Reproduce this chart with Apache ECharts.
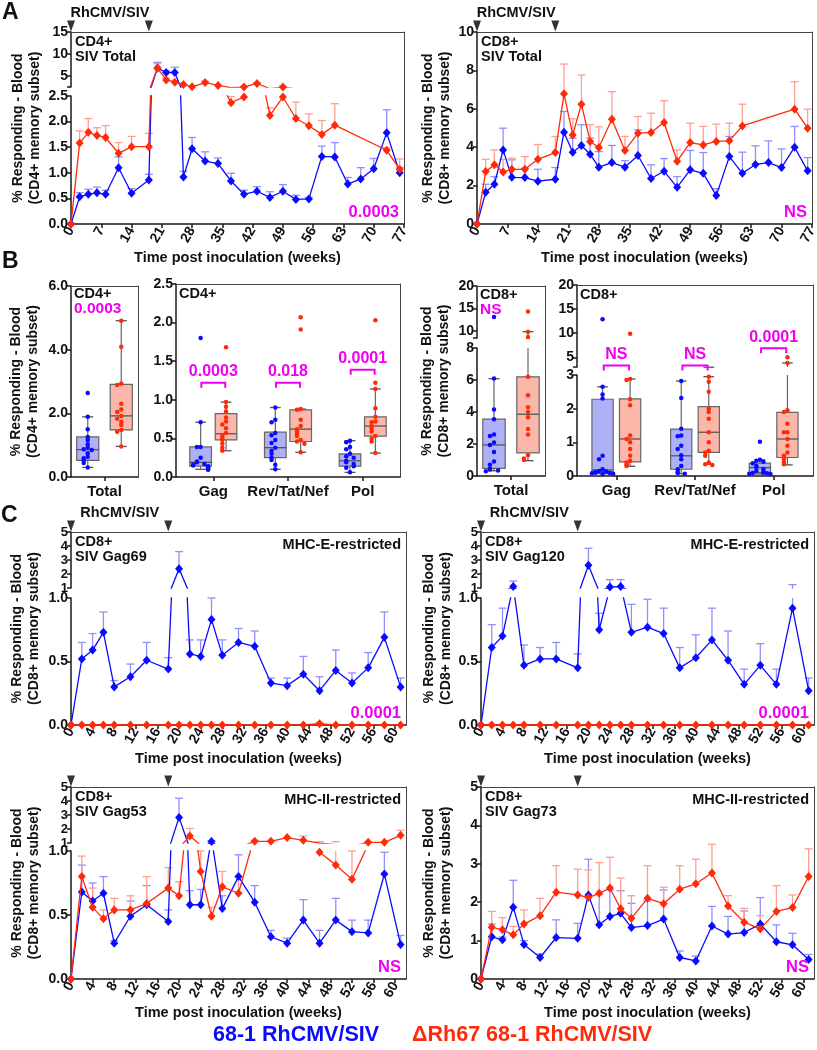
<!DOCTYPE html>
<html><head><meta charset="utf-8">
<script src="https://cdn.jsdelivr.net/npm/echarts@6/dist/echarts.min.js"></script>
<style>html,body{margin:0;padding:0;background:#fff}#c{width:817px;height:1050px}</style>
</head><body><div id="c"></div>
<script>
// ================= DATA =================
const LEG_BLUE = '68-1 RhCMV/SIV';
const LEG_RED = '\u0394Rh67 68-1 RhCMV/SIV';
const arrowWeeks = [0, 18];

// ---- Panel A (weeks) ----
const xTicksA = [0,7,14,21,28,35,42,49,56,63,70,77];
const weeksA_blue = [0,2,4,6,8,11,14,18,20,22,24,26,28,31,34,37,40,43,46,49,52,55,58,61,64,67,70,73,76];
const weeksA_red  = [0,2,4,6,8,11,14,18,20,22,24,26,28,31,34,37,40,43,46,49,52,55,58,61,73,76];
const cd4_blue_mean  = [0,0.53,0.58,0.61,0.58,1.10,0.60,0.86,6.8,5.8,5.8,0.92,1.47,1.23,1.18,0.84,0.58,0.64,0.52,0.64,0.48,0.49,1.32,1.31,0.78,0.88,1.08,1.78,1.0];
const cd4_blue_upper = [0,0.61,0.68,0.72,0.66,1.31,0.69,0.97,8.1,6.2,7.0,1.03,1.69,1.41,1.29,0.99,0.66,0.73,0.63,0.77,0.56,0.52,1.52,1.59,0.91,1.10,1.28,2.23,1.10];
const cd4_red_mean   = [0,1.58,1.79,1.73,1.69,1.38,1.51,1.51,6.8,4.1,3.6,3.05,2.55,3.5,2.85,2.37,2.48,3.3,2.12,2.48,2.06,1.92,1.75,1.93,1.44,1.07];
const cd4_red_upper  = [0,1.82,2.06,1.88,1.92,1.59,1.71,1.77,7.8,4.5,3.9,3.3,2.7,3.8,3.0,2.49,2.66,3.5,2.27,2.7,2.38,2.15,2.02,2.35,1.49,1.27];
const cd8_blue_mean  = [0,1.65,2.07,3.86,2.43,2.42,2.23,2.33,4.78,3.74,4.09,3.63,2.96,3.2,2.96,3.57,2.37,2.75,1.91,2.82,2.64,1.48,3.51,2.64,3.1,3.2,2.94,4.0,2.77];
const cd8_blue_upper = [0,2.07,2.47,4.99,3.34,2.9,2.85,2.94,5.86,4.47,5.17,4.47,3.77,4.09,3.3,4.9,3.08,3.41,2.47,3.83,3.72,1.84,4.56,3.74,4.07,4.33,3.91,5.08,3.46];
const cd8_red_mean   = [0,2.73,3.08,2.71,2.85,2.85,3.37,3.72,6.78,4.64,6.24,4.30,3.98,5.46,3.83,4.73,4.77,5.29,3.27,4.24,4.12,4.30,4.33,5.11,5.98,4.99];
const cd8_red_upper  = [0,3.37,3.86,3.37,3.43,3.51,4.14,4.56,8.33,5.48,7.76,5.17,5.06,6.89,4.56,5.6,5.77,6.42,3.86,5.25,5.08,5.2,5.25,6.24,7.41,5.98];

// ---- Panel B (box plots) ----
const catsTotal = ['Total'];
const catsAg = ['Gag', 'Rev/Tat/Nef', 'Pol'];
// stats: [min, Q1, median, Q3, max]
const cd4Tot_blue_dots = [2.64,1.89,1.5,1.26,1.16,1.03,0.93,0.87,0.85,0.75,0.64,0.59,0.52,0.44,0.30];
const cd4Tot_blue_box  = [0.30,0.52,0.86,1.26,1.89];
const cd4Tot_red_dots  = [4.91,4.09,2.94,2.89,2.3,2.12,2.04,1.92,1.83,1.73,1.63,1.48,1.42,0.96];
const cd4Tot_red_box   = [0.96,1.48,1.92,2.91,4.91];
const cd4Gag_blue_dots = [1.80,0.71,0.39,0.39,0.25,0.20,0.19,0.17,0.16,0.15,0.14,0.125,0.12,0.10,0.095];
const cd4Gag_blue_box  = [0.10,0.14,0.19,0.39,0.71];
const cd4Gag_red_dots  = [1.68,0.97,0.91,0.85,0.77,0.72,0.68,0.63,0.57,0.53,0.50,0.48,0.43,0.38,0.34];
const cd4Gag_red_box   = [0.34,0.48,0.56,0.82,0.97];
const cd4Rev_blue_dots = [0.90,0.74,0.71,0.57,0.54,0.48,0.44,0.38,0.34,0.30,0.25,0.22,0.16,0.10];
const cd4Rev_blue_box  = [0.10,0.25,0.38,0.58,0.90];
const cd4Rev_red_dots  = [2.07,1.91,0.88,0.87,0.74,0.66,0.62,0.59,0.56,0.53,0.48,0.46,0.43,0.32];
const cd4Rev_red_box   = [0.32,0.46,0.62,0.87,0.88];
const cd4Pol_blue_dots = [0.47,0.45,0.39,0.36,0.30,0.27,0.25,0.21,0.19,0.17,0.14,0.12,0.06];
const cd4Pol_blue_box  = [0.06,0.14,0.21,0.30,0.47];
const cd4Pol_red_dots  = [2.03,1.22,1.14,0.89,0.78,0.72,0.71,0.66,0.63,0.59,0.53,0.50,0.46,0.31];
const cd4Pol_red_box   = [0.31,0.53,0.66,0.78,1.14];
const cd8Tot_blue_dots = [13.1,6.1,4.15,3.55,2.6,2.5,2.1,1.94,1.5,0.9,0.7,0.45,0.4,0.35,0.3];
const cd8Tot_blue_box  = [0.33,0.48,1.94,3.55,6.08];
const cd8Tot_red_dots  = [14.3,9.8,8.6,6.2,5.05,4.3,4.0,3.67,2.94,2.6,1.3,1.1,1.0];
const cd8Tot_red_box   = [0.96,1.44,3.86,6.2,9.8];
const cd8Gag_blue_dots = [12.9,2.65,2.42,2.3,0.6,0.5,0.2,0.15,0.13,0.12,0.1,0.09,0.08,0.07,0.06];
const cd8Gag_blue_box  = [0.07,0.13,0.18,2.28,2.65];
const cd8Gag_red_dots  = [9.9,2.88,2.85,2.28,2.1,1.2,1.1,1.0,0.8,0.6,0.45,0.4,0.35,0.3];
const cd8Gag_red_box   = [0.29,0.42,1.10,2.29,2.88];
const cd8Rev_blue_dots = [2.82,2.32,1.4,1.2,1.18,0.9,0.8,0.62,0.5,0.3,0.2,0.12,0.09,0.07];
const cd8Rev_blue_box  = [0.07,0.20,0.60,1.39,2.82];
const cd8Rev_red_dots  = [2.95,2.8,2.5,2.0,1.9,1.7,1.3,1.0,0.75,0.7,0.6,0.4,0.35,0.33];
const cd8Rev_red_box   = [0.35,0.70,1.30,2.06,2.95];
const cd8Pol_blue_dots = [1.02,0.48,0.45,0.42,0.38,0.3,0.25,0.2,0.15,0.12,0.1,0.09,0.08,0.07,0.06];
const cd8Pol_blue_box  = [0.06,0.10,0.25,0.38,0.48];
const cd8Pol_red_dots  = [5.0,3.84,1.95,1.9,1.55,1.3,1.3,1.1,0.9,0.7,0.6,0.5,0.4,0.35];
const cd8Pol_red_box   = [0.33,0.55,1.10,1.89,3.84];
const cd4AgBrackets = [{cat:0, y:1.22, p:'0.0003'}, {cat:1, y:1.22, p:'0.018'}, {cat:2, y:1.39, p:'0.0001'}];
const cd8AgBrackets = [{cat:0, y:3.3, p:'NS'}, {cat:1, y:3.3, p:'NS'}, {cat:2, y:6.9, p:'0.0001'}];

// ---- Panel C (weeks) ----
const xTicksC = [0,4,8,12,16,20,24,28,32,36,40,44,48,52,56,60];
const weeksC = [0,2,4,6,8,11,14,18,20,22,24,26,28,31,34,37,40,43,46,49,52,55,58,61];
const gag69_blue_mean  = [0,0.52,0.59,0.73,0.30,0.38,0.51,0.44,2.38,0.56,0.54,0.83,0.55,0.65,0.62,0.33,0.31,0.40,0.27,0.43,0.33,0.45,0.69,0.30];
const gag69_blue_upper = [0,0.65,0.72,0.89,0.35,0.48,0.65,0.53,3.6,0.67,0.67,1.0,0.67,0.76,0.74,0.37,0.37,0.54,0.38,0.59,0.41,0.57,0.89,0.37];
const gag69_red_mean   = [0,0,0,0,0,0,0,0,0,0,0,0,0,0,0,0,0,0,0.01,0,0,0,0,0];
const gag69_red_upper  = [0,0,0,0,0,0,0,0,0,0,0,0,0,0,0,0,0,0,0.02,0,0,0,0,0];
const gag120_blue_mean  = [0,0.61,0.70,1.1,0.47,0.52,0.52,0.45,2.62,0.75,1.08,1.1,0.73,0.77,0.72,0.45,0.53,0.67,0.51,0.32,0.47,0.32,0.92,0.27];
const gag120_blue_upper = [0,0.79,0.92,1.5,0.63,0.61,0.65,0.56,3.84,0.88,1.6,1.6,0.95,0.99,0.92,0.61,0.71,0.92,0.74,0.44,0.64,0.44,1.24,0.37];
const gag120_red_mean   = [0,0,0,0,0,0,0,0,0,0,0,0,0,0,0,0,0,0,0,0,0,0,0,0];
const gag120_red_upper  = [0,0,0,0,0,0,0,0,0,0,0,0,0,0,0,0,0,0,0,0,0,0,0,0];
const gag53_blue_mean  = [0,0.68,0.61,0.67,0.28,0.49,0.58,0.45,2.83,0.58,0.58,1.1,0.55,0.80,0.60,0.33,0.28,0.46,0.28,0.46,0.37,0.36,0.82,0.27];
const gag53_blue_upper = [0,0.89,0.75,0.80,0.30,0.61,0.73,0.54,4.2,0.69,0.70,1.15,0.65,0.97,0.73,0.38,0.32,0.62,0.38,0.63,0.46,0.46,0.99,0.34];
const gag53_red_mean   = [0,0.80,0.56,0.47,0.54,0.54,0.59,0.71,0.65,1.5,0.84,0.49,0.72,0.67,1.12,1.12,1.39,1.19,0.99,0.89,0.78,1.05,1.05,1.55];
const gag53_red_upper  = [0,0.96,0.71,0.54,0.63,0.65,0.80,0.87,0.76,2.04,1.0,0.56,0.84,0.80,1.2,1.2,1.39,1.5,1.1,1.1,1.0,1.1,1.1,1.9];
const gag73_blue_mean  = [0,1.10,1.02,1.87,0.90,0.56,1.08,1.06,2.19,1.41,1.63,1.71,1.34,1.39,1.56,0.56,0.47,1.38,1.17,1.21,1.43,0.97,0.89,0.51];
const gag73_blue_upper = [0,1.43,1.09,2.57,1.0,0.65,1.54,1.45,3.12,2.2,2.32,2.30,1.97,2.03,2.32,0.73,0.6,1.89,1.63,1.77,2.12,1.41,1.19,0.64];
const gag73_red_mean   = [0,1.35,1.28,1.15,1.43,1.65,2.26,2.19,2.12,2.23,2.37,1.83,1.58,2.10,1.96,2.34,2.48,2.76,1.90,1.48,1.30,1.76,1.86,2.67];
const gag73_red_upper  = [0,1.76,1.60,1.37,1.80,2.10,2.95,2.86,2.84,3.03,3.17,2.63,2.17,2.95,2.39,2.95,3.12,3.51,2.17,1.84,1.65,2.43,2.19,3.39];

// ================= STYLE =================
const FONT = '"Liberation Sans", Arial, Helvetica, sans-serif';
const BLUE = '#0a0aff', RED = '#ff2a0a';
const BLUE_ERR = '#8f8fff', RED_ERR = '#ff9f90';
const BOX_BLUE = '#aeb1f6', BOX_RED = '#fbb8aa';
const MAG = '#f000f0';
const INK = '#111';
const AX = '#1a1a1a';
const XNAME = 'Time post inoculation (weeks)';
const YN4 = '% Responding - Blood\n(CD4+ memory subset)';
const YN8 = '% Responding - Blood\n(CD8+ memory subset)';
const fmt1 = v => v.toFixed(1);
const fmt0 = v => String(v);

// ================= BUILDERS =================
const grids = [], xAxes = [], yAxes = [], series = [], graphics = [];

function txt(x, y, text, o) {
  o = o || {};
  const st = {text: text, fill: o.fill || INK, fontFamily: FONT, fontWeight: 'bold', fontSize: o.size || 14,
    align: o.align || 'left', verticalAlign: o.va || 'top', textAlign: o.align || 'left', textVerticalAlign: o.va || 'top'};
  if (o.lh) st.lineHeight = o.lh;
  graphics.push({type: 'text', x: x, y: y, silent: true, z: 100, style: st});
}

function addFrame(left, top, width, height, yName, yNameGap) {
  const gi = grids.push({left, top, width, height, outerBoundsMode: 'none'}) - 1;
  xAxes.push({gridIndex: gi, type: 'value', position: 'top', min: 0, max: 1,
    axisLine: {show: true, onZero: false, lineStyle: {color: '#444', width: 1}},
    axisTick: {show: false}, axisLabel: {show: false}, splitLine: {show: false}});
  yAxes.push({gridIndex: gi, type: 'value', position: 'right', min: 0, max: 1,
    axisLine: {show: true, onZero: false, lineStyle: {color: '#444', width: 1}},
    axisTick: {show: false}, axisLabel: {show: false}, splitLine: {show: false}});
  if (yName) yAxes.push({gridIndex: gi, type: 'value', position: 'left', min: 0, max: 1,
    axisLine: {show: false}, axisTick: {show: false}, axisLabel: {show: false}, splitLine: {show: false},
    name: yName, nameLocation: 'middle', nameGap: yNameGap,
    nameTextStyle: {fontFamily: FONT, fontWeight: 'bold', fontSize: 14, color: INK, lineHeight: 17}});
}

function xAxisSeg(gi, X, isBottom) {
  return {gridIndex: gi, type: 'value', position: 'bottom', min: X.min, max: X.max,
    axisLine: {show: isBottom, onZero: false, lineStyle: {color: AX, width: 1.5}},
    axisTick: {show: isBottom, length: 4, customValues: X.ticks, lineStyle: {color: AX, width: 1.5}},
    axisLabel: {show: isBottom, customValues: X.ticks, formatter: X.fmt, rotate: X.rotate || 0, margin: X.margin || 4,
      showMinLabel: true, showMaxLabel: true, hideOverlap: false,
      fontFamily: FONT, fontWeight: 'bold', fontSize: X.size || 14, color: INK},
    splitLine: {show: false},
    name: isBottom ? (X.name || '') : '', nameLocation: 'middle', nameGap: X.nameGap || 26,
    nameTextStyle: {fontFamily: FONT, fontWeight: 'bold', fontSize: 14.5, color: INK}};
}

function yAxisSeg(gi, S) {
  const lab = {show: true, margin: 3, customValues: S.labels || S.ticks, formatter: S.fmt,
      showMinLabel: true, showMaxLabel: true, hideOverlap: false,
      fontFamily: FONT, fontWeight: 'bold', fontSize: S.size || 14, color: INK};
  if (S.lh) lab.lineHeight = S.lh;
  return {gridIndex: gi, type: 'value', position: 'left', min: S.min, max: S.max,
    axisLine: {show: true, onZero: false, lineStyle: {color: AX, width: 1.5}},
    axisTick: {show: true, length: 4, customValues: S.ticks, lineStyle: {color: AX, width: 1.5}},
    axisLabel: lab,
    splitLine: {show: false}};
}

function errSeries(xi, yi, pts, color, z) {
  return {type: 'custom', xAxisIndex: xi, yAxisIndex: yi, data: pts, z: z, silent: true, animation: false,
    renderItem: function (params, api) {
      const cs = params.coordSys;
      const x = api.value(0), m = api.value(1), e = api.value(2);
      if (!(e > m)) return null;
      const p0 = api.coord([x, m]), p1 = api.coord([x, e]);
      const top = Math.max(p1[1], cs.y), bot = Math.min(p0[1], cs.y + cs.height);
      if (top >= bot) return null;
      const ch = [{type: 'line', shape: {x1: p0[0], y1: bot, x2: p0[0], y2: top}, style: {stroke: color, lineWidth: 1.3}}];
      if (p1[1] >= cs.y - 0.5 && p1[1] <= cs.y + cs.height)
        ch.push({type: 'line', shape: {x1: p0[0] - 4, y1: p1[1], x2: p0[0] + 4, y2: p1[1]}, style: {stroke: color, lineWidth: 1.3}});
      return {type: 'group', children: ch};
    }};
}

function grp(isRed, weeks, mean, upper) {
  return {name: isRed ? LEG_RED : LEG_BLUE, color: isRed ? RED : BLUE, errColor: isRed ? RED_ERR : BLUE_ERR, weeks, mean, upper};
}

function xpx(P, w) { return P.left + (w - P.x.min) / (P.x.max - P.x.min) * P.width; }

function timePanel(P) {
  const first = P.segs[0], last = P.segs[P.segs.length - 1];
  const fullTop = first.top, fullBottom = last.top + last.height;
  addFrame(P.left, fullTop, P.width, fullBottom - fullTop, P.yName, P.yNameGap);
  P.segs.forEach((seg, k) => {
    const isBottom = k === P.segs.length - 1;
    const gi = grids.push({left: P.left, top: seg.top, width: P.width, height: seg.height, outerBoundsMode: 'none'}) - 1;
    const xi = xAxes.push(xAxisSeg(gi, P.x, isBottom)) - 1;
    const yi = yAxes.push(yAxisSeg(gi, seg)) - 1;
    P.groups.forEach((g, j) => {
      series.push(errSeries(xi, yi, g.weeks.map((w, i) => [w, g.mean[i], g.upper[i]]), g.errColor, 1 + j));
    });
    P.groups.forEach((g, j) => {
      series.push({type: 'line', name: g.name, xAxisIndex: xi, yAxisIndex: yi,
        data: g.weeks.map((w, i) => [w, g.mean[i]]), symbol: 'diamond', symbolSize: [8, 9], showSymbol: true,
        showAllSymbol: true, clip: true, itemStyle: {color: g.color}, lineStyle: {color: g.color, width: 1.3},
        z: 5 + j, silent: true, animation: false});
    });
    if (k === 0 && P.arrows) {
      series.push({type: 'scatter', xAxisIndex: xi, yAxisIndex: yi, data: P.arrows.map(w => [w, seg.max]),
        symbol: 'triangle', symbolRotate: 180, symbolSize: [8, 11], symbolOffset: [0, -6], clip: false,
        itemStyle: {color: '#000'}, silent: true, z: 8, animation: false});
    }
  });
  const right = P.left + P.width;
  txt(P.left + 4, fullTop + 3, P.label, {size: 14.5, lh: 14.5});
  if (P.restr) txt(right - 5, fullTop + 5, P.restr, {align: 'right', size: 14.5});
  txt(right - 5, fullBottom - 3, P.p, {fill: MAG, size: 16.5, align: 'right', va: 'bottom'});
  if (P.arrowText) {
    const xa = xpx(P, P.arrows[0]), xb = xpx(P, P.arrows[1]);
    txt((xa + xb) / 2, fullTop - 19, P.arrowText, {align: 'center', va: 'middle', size: 14.5});
  }
}

function jitter(vals, center, tol, step) {
  const placed = [];
  return vals.map(v => {
    let k = 0;
    placed.forEach(p => { if (Math.abs(p - v) < tol) k++; });
    placed.push(v);
    k = k % 7;
    const off = k === 0 ? 0 : (k % 2 ? -1 : 1) * Math.ceil(k / 2) * step;
    return [center + off, v];
  });
}

function boxRender(fill, halfW) {
  return function (params, api) {
    const cs = params.coordSys;
    const x = api.value(0);
    const v = [1, 2, 3, 4, 5].map(i => api.value(i));
    const py = v.map(val => api.coord([x, val])[1]);
    const cx = api.coord([x, v[0]])[0];
    const hw = api.size([halfW, 0])[0];
    const top = cs.y, bot = cs.y + cs.height;
    const ch = [];
    const vline = (y1, y2) => {
      let a = Math.max(Math.min(y1, y2), top), b = Math.min(Math.max(y1, y2), bot);
      if (a < b) ch.push({type: 'line', shape: {x1: cx, y1: a, x2: cx, y2: b}, style: {stroke: '#666', lineWidth: 1.2}});
    };
    const hline = (y, w) => {
      if (y >= top - 0.5 && y <= bot + 0.5) ch.push({type: 'line', shape: {x1: cx - w, y1: y, x2: cx + w, y2: y}, style: {stroke: '#555', lineWidth: 1.3}});
    };
    vline(py[0], py[1]); vline(py[3], py[4]);
    hline(py[0], hw * 0.5); hline(py[4], hw * 0.5);
    const a = Math.max(py[3], top), b = Math.min(py[1], bot);
    if (a < b) ch.push({type: 'rect', shape: {x: cx - hw, y: a, width: 2 * hw, height: b - a}, style: {fill: fill, stroke: '#666', lineWidth: 1.2}});
    hline(py[2], hw);
    return {type: 'group', children: ch};
  };
}

function bracketSeries(xi, yi, list, half) {
  return {type: 'custom', xAxisIndex: xi, yAxisIndex: yi, silent: true, z: 9, animation: false,
    data: list.map(b => [b.cat, b.y]),
    renderItem: function (params, api) {
      const cs = params.coordSys;
      const b = list[params.dataIndex];
      const pl = api.coord([b.cat - half, b.y]), pr = api.coord([b.cat + half, b.y]);
      const y = pl[1];
      if (y < cs.y - 1 || y > cs.y + cs.height + 1) return null;
      return {type: 'group', children: [
        {type: 'polyline', shape: {points: [[pl[0], y + 5], [pl[0], y], [pr[0], y], [pr[0], y + 5]]}, style: {stroke: MAG, lineWidth: 2, fill: null}},
        {type: 'text', x: (pl[0] + pr[0]) / 2, y: y - 3, style: {text: b.p, fill: MAG, fontFamily: FONT, fontWeight: 'bold', fontSize: 16,
          align: 'center', verticalAlign: 'bottom', textAlign: 'center', textVerticalAlign: 'bottom'}}
      ]};
    }};
}

function boxPanel(P) {
  const first = P.segs[0], last = P.segs[P.segs.length - 1];
  const fullTop = first.top, fullBottom = last.top + last.height;
  addFrame(P.left, fullTop, P.width, fullBottom - fullTop, P.yName, P.yNameGap);
  P.segs.forEach((seg, k) => {
    const isBottom = k === P.segs.length - 1;
    const gi = grids.push({left: P.left, top: seg.top, width: P.width, height: seg.height, outerBoundsMode: 'none'}) - 1;
    const xi = xAxes.push(xAxisSeg(gi, P.x, isBottom)) - 1;
    const yi = yAxes.push(yAxisSeg(gi, seg)) - 1;
    P.items.forEach(it => {
      series.push({type: 'custom', xAxisIndex: xi, yAxisIndex: yi, data: [[it.pos].concat(it.stats)],
        renderItem: boxRender(it.fill, P.halfW), z: 2, silent: true, animation: false});
      series.push({type: 'scatter', xAxisIndex: xi, yAxisIndex: yi, data: jitter(it.dots, it.pos, P.tol, P.step),
        symbol: 'circle', symbolSize: 4.5, itemStyle: {color: it.color, opacity: 1}, clip: true, z: 4, silent: true, animation: false});
    });
    if (P.brackets) series.push(bracketSeries(xi, yi, P.brackets, 0.16));
  });
  P.texts.forEach(t => txt(P.left + 3, fullTop + t.dy, t.text, {fill: t.fill || INK, size: t.size || 14.5}));
}

// ================= PANELS =================
// ---- A ----
timePanel({left: 71, width: 333,
  x: {min: 0, max: 77, ticks: xTicksA, fmt: fmt0, rotate: 60, name: XNAME, nameGap: 26},
  segs: [{top: 32, height: 55, min: 2.5, max: 15, ticks: [2.5, 5, 10, 15], labels: [5, 10, 15], fmt: fmt0},
         {top: 96, height: 128, min: 0, max: 2.5, ticks: [0, 0.5, 1, 1.5, 2, 2.5], fmt: fmt1}],
  yName: YN4, yNameGap: 27,
  groups: [grp(false, weeksA_blue, cd4_blue_mean, cd4_blue_upper), grp(true, weeksA_red, cd4_red_mean, cd4_red_upper)],
  arrows: arrowWeeks, arrowText: 'RhCMV/SIV', label: 'CD4+\nSIV Total', p: '0.0003'});

timePanel({left: 477, width: 335,
  x: {min: 0, max: 77, ticks: xTicksA, fmt: fmt0, rotate: 60, name: XNAME, nameGap: 26},
  segs: [{top: 32, height: 192, min: 0, max: 10, ticks: [0, 2, 4, 6, 8, 10], fmt: fmt0}],
  yName: YN8, yNameGap: 23,
  groups: [grp(false, weeksA_blue, cd8_blue_mean, cd8_blue_upper), grp(true, weeksA_red, cd8_red_mean, cd8_red_upper)],
  arrows: arrowWeeks, arrowText: 'RhCMV/SIV', label: 'CD8+\nSIV Total', p: 'NS'});

// ---- B ----
boxPanel({left: 71, width: 67,
  x: {min: -0.5, max: 0.5, ticks: [0], fmt: v => catsTotal[Math.round(v)], margin: 7, size: 15},
  segs: [{top: 286, height: 191, min: 0, max: 6, ticks: [0, 2, 4, 6], fmt: fmt1}],
  yName: YN4, yNameGap: 29, halfW: 0.165, tol: 0.09, step: 0.06,
  items: [{pos: -0.25, stats: cd4Tot_blue_box, dots: cd4Tot_blue_dots, color: BLUE, fill: BOX_BLUE},
          {pos: 0.25, stats: cd4Tot_red_box, dots: cd4Tot_red_dots, color: RED, fill: BOX_RED}],
  texts: [{dy: 0, text: 'CD4+'}, {dy: 15, text: '0.0003', fill: MAG, size: 15.5}]});

boxPanel({left: 176, width: 224,
  x: {min: -0.5, max: 2.5, ticks: [0, 1, 2], fmt: v => catsAg[Math.round(v)], margin: 7, size: 15},
  segs: [{top: 284, height: 193, min: 0, max: 2.5, ticks: [0, 0.5, 1, 1.5, 2, 2.5], fmt: fmt1}],
  yName: null, halfW: 0.145, tol: 0.05, step: 0.05,
  items: [{pos: -0.17, stats: cd4Gag_blue_box, dots: cd4Gag_blue_dots, color: BLUE, fill: BOX_BLUE},
          {pos: 0.17, stats: cd4Gag_red_box, dots: cd4Gag_red_dots, color: RED, fill: BOX_RED},
          {pos: 0.83, stats: cd4Rev_blue_box, dots: cd4Rev_blue_dots, color: BLUE, fill: BOX_BLUE},
          {pos: 1.17, stats: cd4Rev_red_box, dots: cd4Rev_red_dots, color: RED, fill: BOX_RED},
          {pos: 1.83, stats: cd4Pol_blue_box, dots: cd4Pol_blue_dots, color: BLUE, fill: BOX_BLUE},
          {pos: 2.17, stats: cd4Pol_red_box, dots: cd4Pol_red_dots, color: RED, fill: BOX_RED}],
  brackets: cd4AgBrackets,
  texts: [{dy: 2, text: 'CD4+'}]});

boxPanel({left: 477, width: 68,
  x: {min: -0.5, max: 0.5, ticks: [0], fmt: v => catsTotal[Math.round(v)], margin: 7, size: 15},
  segs: [{top: 286, height: 52, min: 8.4, max: 20, ticks: [8.4, 10, 15, 20], labels: [10, 15, 20], fmt: fmt0},
         {top: 348, height: 128, min: 0, max: 8, ticks: [0, 2, 4, 6, 8], fmt: fmt0}],
  yName: YN8, yNameGap: 24, halfW: 0.165, tol: 0.25, step: 0.06,
  items: [{pos: -0.25, stats: cd8Tot_blue_box, dots: cd8Tot_blue_dots, color: BLUE, fill: BOX_BLUE},
          {pos: 0.25, stats: cd8Tot_red_box, dots: cd8Tot_red_dots, color: RED, fill: BOX_RED}],
  texts: [{dy: 1, text: 'CD8+'}, {dy: 16, text: 'NS', fill: MAG, size: 15.5}]});

boxPanel({left: 577, width: 236,
  x: {min: -0.5, max: 2.5, ticks: [0, 1, 2], fmt: v => catsAg[Math.round(v)], margin: 7, size: 15},
  segs: [{top: 285, height: 82, min: 3, max: 20, ticks: [3, 5, 10, 15, 20], labels: [5, 10, 15, 20], fmt: fmt0},
         {top: 375, height: 101, min: 0, max: 3, ticks: [0, 1, 2, 3], fmt: fmt0}],
  yName: null, halfW: 0.135, tol: 0.1, step: 0.045,
  items: [{pos: -0.175, stats: cd8Gag_blue_box, dots: cd8Gag_blue_dots, color: BLUE, fill: BOX_BLUE},
          {pos: 0.175, stats: cd8Gag_red_box, dots: cd8Gag_red_dots, color: RED, fill: BOX_RED},
          {pos: 0.825, stats: cd8Rev_blue_box, dots: cd8Rev_blue_dots, color: BLUE, fill: BOX_BLUE},
          {pos: 1.175, stats: cd8Rev_red_box, dots: cd8Rev_red_dots, color: RED, fill: BOX_RED},
          {pos: 1.825, stats: cd8Pol_blue_box, dots: cd8Pol_blue_dots, color: BLUE, fill: BOX_BLUE},
          {pos: 2.175, stats: cd8Pol_red_box, dots: cd8Pol_red_dots, color: RED, fill: BOX_RED}],
  brackets: cd8AgBrackets,
  texts: [{dy: 2, text: 'CD8+'}]});

// ---- C ----
const xC = {min: 0, max: 62, ticks: xTicksC, fmt: fmt0, rotate: 60, name: XNAME, nameGap: 26};
const segsTopBroken = [{top: 532, height: 56, min: 1, max: 5, ticks: [1, 2, 3, 4, 5], fmt: fmt0, size: 13, lh: 11},
                       {top: 598, height: 127, min: 0, max: 1, ticks: [0, 0.5, 1], fmt: fmt1}];
const segsBotBroken = [{top: 787, height: 56, min: 1, max: 5, ticks: [1, 2, 3, 4, 5], fmt: fmt0, size: 13, lh: 11},
                       {top: 851, height: 128, min: 0, max: 1, ticks: [0, 0.5, 1], fmt: fmt1}];
timePanel({left: 71, width: 335, x: xC, segs: segsTopBroken, yName: YN8, yNameGap: 28,
  groups: [grp(false, weeksC, gag69_blue_mean, gag69_blue_upper), grp(true, weeksC, gag69_red_mean, gag69_red_upper)],
  arrows: arrowWeeks, arrowText: 'RhCMV/SIV', label: 'CD8+\nSIV Gag69', restr: 'MHC-E-restricted', p: '0.0001'});
timePanel({left: 481, width: 333, x: xC, segs: segsTopBroken, yName: YN8, yNameGap: 26,
  groups: [grp(false, weeksC, gag120_blue_mean, gag120_blue_upper), grp(true, weeksC, gag120_red_mean, gag120_red_upper)],
  arrows: arrowWeeks, arrowText: 'RhCMV/SIV', label: 'CD8+\nSIV Gag120', restr: 'MHC-E-restricted', p: '0.0001'});
timePanel({left: 71, width: 335, x: xC, segs: segsBotBroken, yName: YN8, yNameGap: 28,
  groups: [grp(false, weeksC, gag53_blue_mean, gag53_blue_upper), grp(true, weeksC, gag53_red_mean, gag53_red_upper)],
  arrows: arrowWeeks, label: 'CD8+\nSIV Gag53', restr: 'MHC-II-restricted', p: 'NS'});
timePanel({left: 481, width: 333, x: xC,
  segs: [{top: 787, height: 192, min: 0, max: 5, ticks: [0, 1, 2, 3, 4, 5], fmt: fmt0}], yName: YN8, yNameGap: 26,
  groups: [grp(false, weeksC, gag73_blue_mean, gag73_blue_upper), grp(true, weeksC, gag73_red_mean, gag73_red_upper)],
  arrows: arrowWeeks, label: 'CD8+\nSIV Gag73', restr: 'MHC-II-restricted', p: 'NS'});

// panel letters
txt(2, 1, 'A', {size: 23});
txt(2, 250, 'B', {size: 23});
txt(1, 504, 'C', {size: 23});

const chart = echarts.init(document.getElementById('c'), null, {renderer: 'canvas', width: 817, height: 1050});
chart.setOption({
  animation: false,
  backgroundColor: '#fff',
  textStyle: {fontFamily: FONT},
  grid: grids, xAxis: xAxes, yAxis: yAxes, series: series, graphic: graphics,
  legend: {left: 203, top: 1019, icon: 'none', itemWidth: 0, itemHeight: 0, itemGap: 28, selectedMode: false,
    textStyle: {fontFamily: FONT, fontWeight: 'bold', fontSize: 21.5},
    data: [{name: LEG_BLUE, textStyle: {color: BLUE}}, {name: LEG_RED, textStyle: {color: RED}}]}
});
</script></body></html>
